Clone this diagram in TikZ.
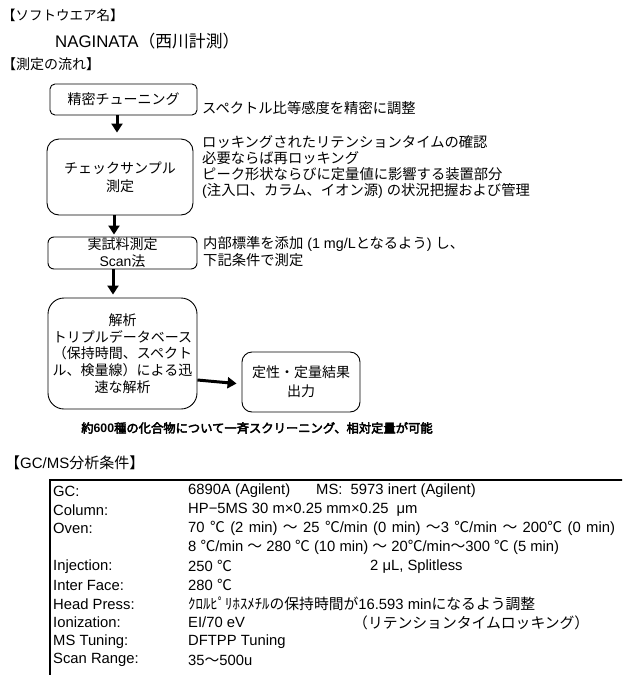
\documentclass[tikz,border=0pt]{standalone}
\usepackage{fontspec}
\setmainfont{Liberation Sans}
\newfontfamily\cjkfont{Noto Sans CJK JP}[AutoFakeBold=3.5]
\newfontfamily\latfont{Liberation Sans}
\usetikzlibrary{arrows.meta}
\XeTeXinterchartokenstate=1
\newXeTeXintercharclass\cjkcls
\count255="3000
\loop\XeTeXcharclass\count255=\cjkcls\ifnum\count255<"30FF\advance\count255 by 1\repeat
\count255="4E00
\loop\XeTeXcharclass\count255=\cjkcls\ifnum\count255<"9FFF\advance\count255 by 1\repeat
\count255="FF00
\loop\XeTeXcharclass\count255=\cjkcls\ifnum\count255<"FFEF\advance\count255 by 1\repeat
\XeTeXcharclass"2103=\cjkcls
\XeTeXinterchartoks 0 \cjkcls = {\cjkfont}
\XeTeXinterchartoks 4095 \cjkcls = {\cjkfont}
\XeTeXinterchartoks \cjkcls 0 = {\latfont}
\XeTeXinterchartoks \cjkcls 4095 = {\latfont}
\tikzset{
  flowbox/.style={draw=black, line width=0.9pt, align=center, inner sep=0pt,
    font=\fontsize{14}{17}\selectfont},
  side/.style={anchor=west, align=left, inner sep=0pt, font=\fontsize{14.3}{15.7}\selectfont},
  arr/.style={line width=3pt, -{Triangle[width=11pt,length=9pt]}},
  head/.style={anchor=west, inner sep=0pt},
  cell/.style={anchor=west, inner sep=0pt, font=\fontsize{14.8}{16}\selectfont},
}
\begin{document}
\begin{tikzpicture}[x=1pt,y=-1pt]
\useasboundingbox (0,0) rectangle (622,675);
\clip (0,0) rectangle (622,675);
% titles
\node[head, font=\fontsize{13.5}{15}\selectfont] (t1) at (2,15) {【ソフトウエア名】};
\node[head, font=\fontsize{16.8}{18}\selectfont] (t2) at (55,41) {NAGINATA（西川計測）};
\node[head, font=\fontsize{14}{16}\selectfont] (t3) at (2,64) {【測定の流れ】};
% flow boxes
\node[flowbox, rounded corners=5pt, minimum width=147pt, minimum height=31pt] (b1) at (123.5,99.5) {精密チューニング};
\node[flowbox, rounded corners=12pt, minimum width=146pt, minimum height=76pt, font=\fontsize{14}{18}\selectfont] (b2) at (120,177) {チェックサンプル\\測定};
\node[flowbox, rounded corners=6pt, minimum width=149pt, minimum height=32pt] (b3) at (122.5,253) {実試料測定\\Scan法};
\node[flowbox, rounded corners=16pt, minimum width=149pt, minimum height=111pt, font=\fontsize{14}{16.7}\selectfont] (b4) at (122.5,353.5) {解析\\トリプルデータベース\\（保持時間、スペクト\\ル、検量線）による迅\\速な解析};
\node[flowbox, rounded corners=10pt, minimum width=118pt, minimum height=60pt, font=\fontsize{14}{19}\selectfont] (b5) at (301,382) {定性・定量結果\\出力};
% side notes
\node[side] (s1) at (202,108) {スペクトル比等感度を精密に調整};
\node[side] (s2) at (202,167) {ロッキングされたリテンションタイムの確認\\必要ならば再ロッキング\\ピーク形状ならびに定量値に影響する装置部分\\(注入口、カラム、イオン源) の状況把握および管理};
\node[side, font=\fontsize{14.3}{17}\selectfont] (s3) at (203,252) {内部標準を添加 (1 mg/Lとなるよう) し、\\下記条件で測定};
% arrows
\draw[arr, shorten >=6pt] ([xshift=-6.5pt]b1.south) -- ([xshift=-3pt]b2.north);
\draw[arr, shorten >=2pt] ([xshift=-6pt]b2.south) -- ([xshift=-8.5pt]b3.north);
\draw[arr, shorten >=3pt] ([xshift=-9.5pt]b3.south) -- ([xshift=-9.5pt]b4.north);
\draw[arr, shorten >=5pt] ([yshift=-26.5pt]b4.east) -- ([yshift=-2pt]b5.west);
% conclusion
\node[inner sep=0pt, font=\fontsize{12.3}{14}\selectfont\bfseries] (concl) at (257,428) {約600種の化合物について一斉スクリーニング、相対定量が可能};
% GC/MS conditions
\node[head, font=\fontsize{15}{16}\selectfont] (t4) at (5,463) {【GC/MS分析条件】};
\draw[line width=2pt] (50,690) -- (50,480) -- (640,480);
\node[cell] (l1) at (53,491) {GC:};
\node[cell] (v1) at (188,491) {6890A (Agilent)};
\node[cell] (v1b) at (316,491) {MS:\ \ 5973 inert (Agilent)};
\node[cell] (l2) at (53,509.8) {Column:};
\node[cell] (v2) at (188,509.8) {HP−5MS 30 m×0.25 mm×0.25 \ μm};
\node[cell] (l3) at (53,528.6) {Oven:};
\node[cell] (v3) at (188,528.6) {\spaceskip=5.4pt 70 ℃ (2 min) 〜 25 ℃/min (0 min) 〜3 ℃/min 〜 200℃ (0 min)};
\node[cell] (v3b) at (188,547.4) {8 ℃/min 〜 280 ℃ (10 min) 〜 20℃/min〜300 ℃ (5 min)};
\node[cell] (l4) at (53,566.2) {Injection:};
\node[cell] (v4) at (188,566.2) {250 ℃};
\node[cell] (v4b) at (370,566.2) {2 μL, Splitless};
\node[cell] (l5) at (53,585) {Inter Face:};
\node[cell] (v5) at (188,585) {280 ℃};
\node[cell] (l6) at (53,603.8) {Head Press:};
\node[cell] (v6) at (188,603.8) {ｸﾛﾙﾋﾟﾘﾎｽﾒﾁﾙの保持時間が16.593 minになるよう調整};
\node[cell] (l7) at (53,622.6) {Ionization:};
\node[cell] (v7) at (188,622.6) {EI/70 eV};
\node[cell] (v7b) at (353,622.6) {（リテンションタイムロッキング）};
\node[cell] (l8) at (53,641.4) {MS Tuning:};
\node[cell] (v8) at (188,641.4) {DFTPP Tuning};
\node[cell] (l9) at (53,660.2) {Scan Range:};
\node[cell] (v9) at (188,660.2) {35〜500u};
\end{tikzpicture}
\end{document}
